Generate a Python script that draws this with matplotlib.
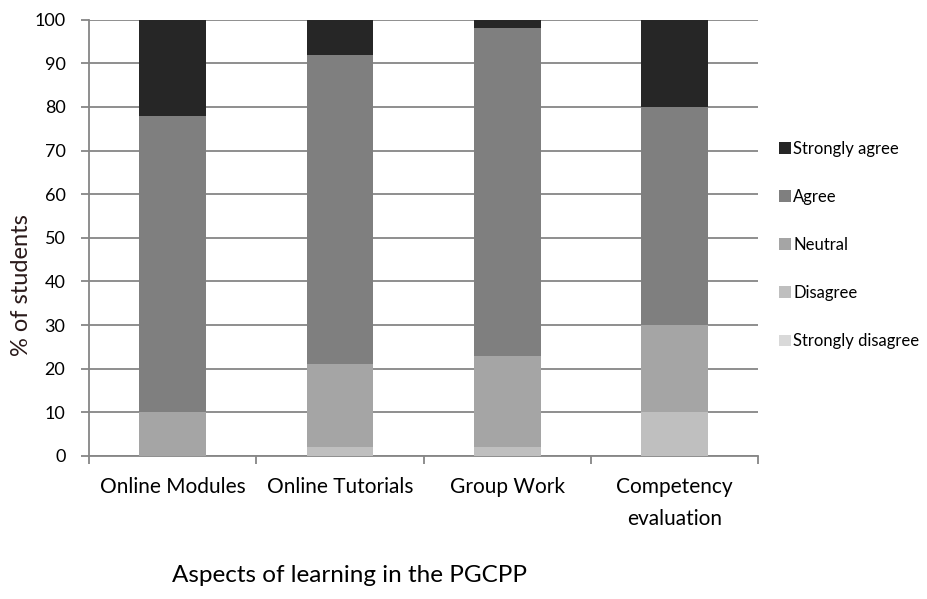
import numpy as np
import matplotlib
matplotlib.use("Agg")
import matplotlib.pyplot as plt

plt.rcParams['font.family'] = ['Lato', 'DejaVu Sans']

categories = ["Online Modules", "Online Tutorials", "Group Work", "Competency\nevaluation"]
levels = ["Strongly disagree", "Disagree", "Neutral", "Agree", "Strongly agree"]
strongly_disagree = [0, 0, 0, 0]
disagree = [0, 2, 2, 10]
neutral = [10, 19, 21, 20]
agree = [68, 71, 75, 50]
strongly_agree = [22, 8, 2, 20]
colors = ["#d9d9d9", "#bfbfbf", "#a5a5a5", "#7f7f7f", "#262626"]

series = [strongly_disagree, disagree, neutral, agree, strongly_agree]

fig = plt.figure(figsize=(9.27, 5.99), dpi=100)
ax = fig.add_axes([0.096, 0.239, 0.722, 0.728])

x = np.arange(len(categories))
bottom = np.zeros(len(categories))
handles = []
for name, vals, c in zip(levels, series, colors):
    b = ax.bar(x, vals, width=0.4, bottom=bottom, color=c, label=name, zorder=3)
    handles.append(b)
    bottom += np.array(vals)

ax.set_xlim(-0.5, len(categories) - 0.5)
ax.set_ylim(0, 100)
ax.set_yticks(range(0, 101, 10))
ax.yaxis.grid(True, color="#868686", linewidth=1.3)
ax.set_axisbelow(True)

ax.set_xticks(x)
ax.set_xticklabels(categories, fontsize=15, linespacing=1.75)
ax.set_xticks(np.arange(-0.5, len(categories), 1), minor=True)
ax.tick_params(axis="x", which="major", length=0, pad=15)
ax.tick_params(axis="x", which="minor", length=6, color="#868686", width=1.3)
ax.tick_params(axis="y", length=6, color="#868686", width=1.3, labelsize=13, pad=11)

for s in ["top", "right"]:
    ax.spines[s].set_visible(False)
for s in ["left", "bottom"]:
    ax.spines[s].set_color("#868686")
    ax.spines[s].set_linewidth(1.3)

fig.text(22 / 927, 1 - 285 / 599, "% of students", fontsize=17, color="#2a1a1a",
         rotation=90, ha="center", va="center")
fig.text(350 / 927, 1 - 576 / 599, "Aspects of learning in the PGCPP", fontsize=17.5,
         ha="center", va="center")

fig.legend(handles[::-1], levels[::-1], loc="center left",
           bbox_to_anchor=(779 / 927, 1 - 245 / 599), frameon=False, fontsize=12,
           labelspacing=1.93, handlelength=0.7, handleheight=0.7, handletextpad=0.15,
           borderpad=0, borderaxespad=0)

fig.savefig("out.png", dpi=100)
